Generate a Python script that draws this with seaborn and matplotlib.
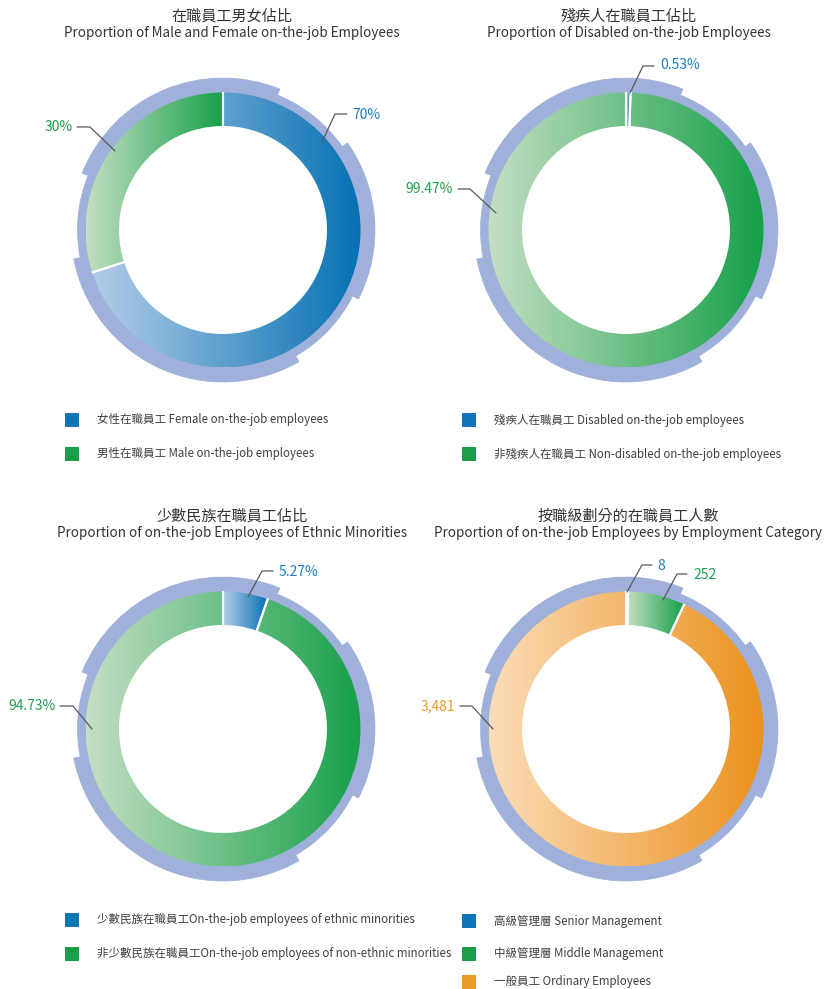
import numpy as np
import pandas as pd
import matplotlib
matplotlib.use("Agg")
import matplotlib.pyplot as plt
import seaborn as sns
from matplotlib.patches import Wedge
from matplotlib.colors import LinearSegmentedColormap

# ---------------- data ----------------
titles_zh = ["在職員工男女佔比", "殘疾人在職員工佔比", "少數民族在職員工佔比", "按職級劃分的在職員工人數"]
titles_en = ["Proportion of Male and Female on-the-job Employees",
             "Proportion of Disabled on-the-job Employees",
             "Proportion of on-the-job Employees of Ethnic Minorities",
             "Proportion of on-the-job Employees by Employment Category"]

gender_labels = ["女性在職員工 Female on-the-job employees", "男性在職員工 Male on-the-job employees"]
gender_values = [70, 30]

disabled_labels = ["殘疾人在職員工 Disabled on-the-job employees",
                   "非殘疾人在職員工 Non-disabled on-the-job employees"]
disabled_values = [0.53, 99.47]

ethnic_labels = ["少數民族在職員工On-the-job employees of ethnic minorities",
                 "非少數民族在職員工On-the-job employees of non-ethnic minorities"]
ethnic_values = [5.27, 94.73]

category_labels = ["高級管理層 Senior Management", "中級管理層 Middle Management", "一般員工 Ordinary Employees"]
category_values = [8, 252, 3481]

# ---------------- style ----------------
sns.set_theme(style="white")
plt.rcParams["font.family"] = ["Noto Sans CJK TC", "DejaVu Sans"]

W, H = 824, 989
fig = plt.figure(figsize=(W / 100, H / 100), dpi=100)
ax = fig.add_axes([0, 0, 1, 1])
ax.set_axis_off()

def Y(y):
    return H - y

GRAD = {"blue": ("#b3cde7", "#0571b3"),
        "green": ("#c4dfc4", "#16a049"),
        "orange": ("#fbdcb8", "#eb911c")}
SOLID = {"blue": "#0f75b8", "green": "#1a9e4a", "orange": "#ec9a2b"}
TXT = {"blue": "#1a7dc0", "green": "#1f9f4f", "orange": "#ec9a2b"}
RING = "#9fb0da"

R_OUT = 137.5
R_IN = 104.0
RING_BIG, RING_SMALL = 152, 145.5
RING_BOUNDS = [68, 35, -27, -60, -169, -202, -292]

centers = [(223, 230), (626, 230), (223, 729), (626, 729)]
title_x = [232, 629, 232, 628]
title_y = [(16, 32.5), (16, 32.5), (516, 532.5), (516, 532.5)]

charts = [
    (gender_values, gender_labels, ["blue", "green"], "{:g}%"),
    (disabled_values, disabled_labels, ["blue", "green"], "{:g}%"),
    (ethnic_values, ethnic_labels, ["blue", "green"], "{:g}%"),
    (category_values, category_labels, ["blue", "green", "orange"], "{:,}"),
]

# leader-line layout (pixel positions, y measured from top)
leaders = [
    [([(322, 142), (335, 114), (347, 114)], (352, 115), "left"),
     ([(115, 151), (90, 127), (77, 127)], (73, 127), "right")],
    [([(630, 93), (643, 66), (654, 66)], (660, 65), "left"),
     ([(496, 213), (470, 189), (458, 189)], (453, 189), "right")],
    [([(248, 597), (262, 571), (273, 571)], (279, 572), "left"),
     ([(92, 729), (73, 706), (60, 706)], (56, 706), "right")],
    [([(627, 592), (642, 565), (652, 565)], (657, 566), "left"),
     ([(663, 600), (677, 574), (687, 574)], (693, 575), "left"),
     ([(493, 729), (472, 706), (460, 706)], (455, 706), "right")],
]

legend_pos = [(72, 97, [420, 454]), (469, 494, [420, 454]),
              (72, 97, [920, 954]), (469, 494, [921, 954, 982])]

grad = np.linspace(0, 1, 256).reshape(1, -1)
leg_rows = []

for i, (vals, labs, cols, fmt) in enumerate(charts):
    cx, cy = centers[i]
    c = (cx, Y(cy))
    # decorative background ring with stepped outer edge
    for k in range(len(RING_BOUNDS) - 1):
        a, b = RING_BOUNDS[k], RING_BOUNDS[k + 1]
        r = RING_SMALL if k % 2 == 0 else RING_BIG
        ax.add_patch(Wedge(c, r, b, a, width=r - 128, facecolor=RING,
                           edgecolor=RING, linewidth=0.5, zorder=1))
    # donut
    wedges, _ = ax.pie(vals, center=c, radius=R_OUT, startangle=90, counterclock=False,
                       wedgeprops=dict(width=R_OUT - R_IN, facecolor="none",
                                       edgecolor="none", linewidth=0))
    for w, col in zip(wedges, cols):
        w.set_zorder(3)
        ext = w.get_path().get_extents()
        cmap = LinearSegmentedColormap.from_list("g", list(GRAD[col]))
        im = ax.imshow(grad, cmap=cmap, extent=(ext.x0, ext.x1, ext.y0, ext.y1),
                       aspect="auto", origin="lower", interpolation="bilinear", zorder=2)
        im.set_clip_path(w)
        # white radial separators at wedge boundaries
        for th in (w.theta1, w.theta2):
            t = np.deg2rad(th)
            ax.plot([c[0] + (R_IN - 1) * np.cos(t), c[0] + (R_OUT + 0.5) * np.cos(t)],
                    [c[1] + (R_IN - 1) * np.sin(t), c[1] + (R_OUT + 0.5) * np.sin(t)],
                    color="white", linewidth=1.5, solid_capstyle="butt", zorder=4)
    # titles
    ax.text(title_x[i], Y(title_y[i][0]), titles_zh[i], ha="center", va="center",
            fontsize=10.9, color="#333333")
    ax.text(title_x[i], Y(title_y[i][1]), titles_en[i], ha="center", va="center",
            fontsize=9.65, color="#333333")
    # value labels with leader lines
    for (pts, tpos, ha), v, col in zip(leaders[i], vals, cols):
        xs = [p[0] for p in pts]
        ys = [Y(p[1]) for p in pts]
        ax.plot(xs, ys, color="#5a5a5a", linewidth=0.9, zorder=5)
        ax.text(tpos[0], Y(tpos[1]), fmt.format(v), ha=ha, va="center",
                fontsize=10, color=TXT[col], zorder=5)
    # legend rows
    sx, tx, rows = legend_pos[i]
    for lab, col, ry in zip(labs, cols, rows):
        leg_rows.append(dict(x=sx, y=Y(ry), col=col))
        ax.text(tx, Y(ry), lab, ha="left", va="center", fontsize=8.3, color="#404040")

leg_df = pd.DataFrame(leg_rows)
sns.scatterplot(data=leg_df, x="x", y="y", hue="col", palette=SOLID, marker="s",
                s=105, linewidth=0, legend=False, ax=ax, zorder=6)

ax.set_xlim(0, W)
ax.set_ylim(0, H)
ax.set_aspect("auto")
ax.set_axis_off()

fig.savefig("out.png", dpi=100, facecolor="white")
